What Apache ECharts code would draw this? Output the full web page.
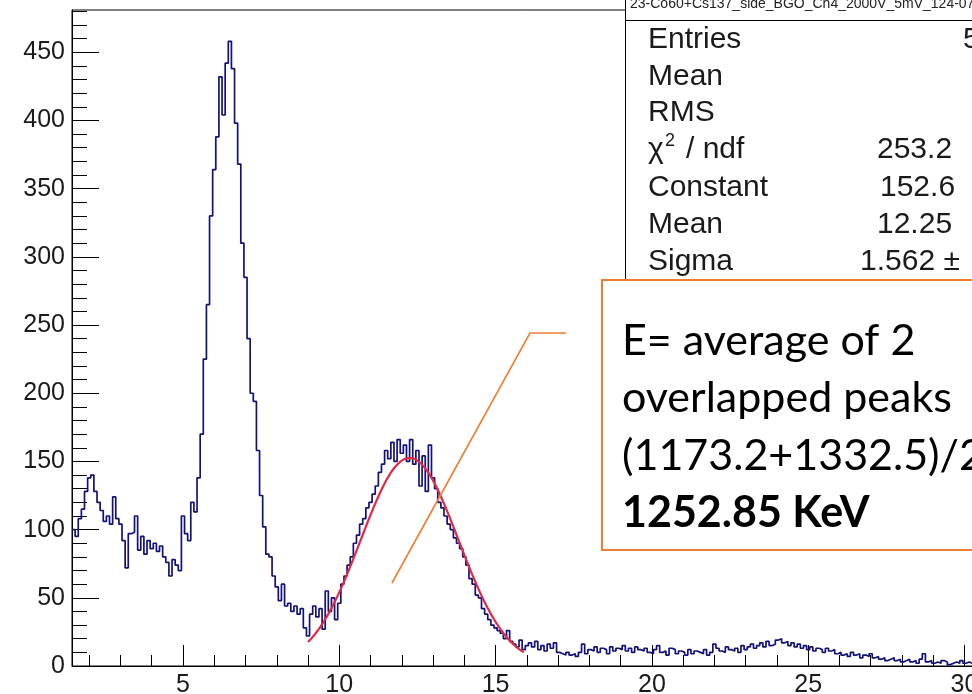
<!DOCTYPE html>
<html>
<head>
<meta charset="utf-8">
<script src="https://cdn.jsdelivr.net/npm/echarts@6/dist/echarts.min.js"></script>
<style>
  html, body { margin: 0; padding: 0; background: #fff; }
  #chart { width: 972px; height: 694px; }
</style>
</head>
<body>
<div id="chart"></div>
<script>
// Histogram binning (channel units)
const binStart = 1.45;
const binWidth = 0.1;

// Bin contents, in order, split by region of the spectrum
const countsLowEnergy = [
  100, 95, 108, 115, 128, 138, 140, 128, 120, 114,
  106, 110, 104, 124, 108, 104, 92, 72, 97, 98,
  110, 85, 95, 82, 92, 86, 90, 84, 88, 80,
  76, 66, 78, 74, 70, 110
];
const countsFirstPeak = [
  97, 92, 120, 113, 138, 170, 225, 265, 330, 364,
  388, 432, 404, 442, 458, 438, 398, 368, 310, 285,
  240, 200, 194, 158, 125, 102, 82, 80, 66, 58,
  48, 60, 44, 46, 40, 44, 38, 42, 28, 22
];
const countsSecondPeak = [
  38, 44, 36, 42, 27, 55, 40, 50, 34, 46,
  60, 66, 74, 80, 90, 96, 104, 108, 116, 120,
  126, 132, 142, 148, 158, 152, 164, 150, 166, 156,
  162, 150, 166, 148, 158, 132, 154, 128, 162, 138,
  130, 120, 116, 110, 104, 100, 94, 90, 86, 80,
  74, 64, 60, 52, 50, 42, 38, 34, 30, 28,
  26, 24, 20, 26, 18, 16, 14, 19, 12, 15
];
const countsTail = [
  17, 14, 18, 12, 15, 11, 16, 13, 17, 10,
  9, 8, 10, 8, 9, 7, 10, 16, 9, 12,
  11, 14, 10, 13, 12, 9, 14, 11, 13, 12,
  15, 11, 13, 10, 14, 12, 11, 13, 10, 9,
  12, 15, 10, 11, 8, 13, 12, 9, 11, 10,
  8, 12, 9, 11, 10, 9, 12, 8, 10, 16,
  13, 11, 10, 14, 12, 11, 13, 10, 15, 12,
  14, 16, 13, 15, 17, 14, 18, 15, 16, 19,
  20, 17, 18, 15, 17, 14, 16, 13, 15, 12,
  14, 11, 13, 12, 10, 13, 11, 12, 9, 10,
  8, 9, 7, 10, 8, 9, 6, 8, 7, 9,
  6, 7, 5, 6, 4, 5, 6, 4, 5, 3,
  4, 5, 3, 4, 2, 5, 9, 3, 4, 2,
  3, 2, 4, 3, 1, 2, 3, 2, 4, 2, 3, 2
];

// Gaussian fit results (stat box)
const fitConstant = 152.6;
const fitMean = 12.25;
const fitSigma = 1.562;
const fitRange = [9.0, 15.9];

// Axis ranges and ticks
const xMin = 1.45, xMax = 32;
const yMin = 0, yMax = 481;
const xMajorTicks = [5, 10, 15, 20, 25, 30];
const xMinorTicks = [2, 3, 4, 6, 7, 8, 9, 11, 12, 13, 14, 16, 17, 18, 19, 21, 22, 23, 24, 26, 27, 28, 29, 31];
const yMajorTicks = [0, 50, 100, 150, 200, 250, 300, 350, 400, 450];
const yMinorTicks = [];
for (let v = 10; v < yMax; v += 10) if (v % 50 !== 0) yMinorTicks.push(v);

// Stat box text
const statTitle = '23-Co60+Cs137_side_BGO_Ch4_2000V_5mV_124-07_0.7Gsa_sy';
const statLabels = ['Entries', 'Mean', 'RMS', '', 'Constant', 'Mean', 'Sigma'];
const statValues = ['5', '', '', '253.2', '152.6', '12.25', '1.562 \u00b1'];

// Annotation text
const noteLines = ['E= average of 2', 'overlapped peaks', '(1173.2+1332.5)/2', '1252.85 KeV'];

// Build step outline of the histogram
const counts = [].concat(countsLowEnergy, countsFirstPeak, countsSecondPeak, countsTail);
const histPoints = [];
counts.forEach((c, i) => {
  const lo = binStart + i * binWidth;
  histPoints.push([lo, c], [lo + binWidth, c]);
});

// Fit curve sampled over its range
const fitPoints = [];
for (let x = fitRange[0]; x <= fitRange[1] + 1e-9; x += 0.05) {
  const z = (x - fitMean) / fitSigma;
  fitPoints.push([x, fitConstant * Math.exp(-0.5 * z * z)]);
}

const chart = echarts.init(document.getElementById('chart'), null, { renderer: 'canvas' });

const axisFont = { fontFamily: 'Liberation Sans', fontSize: 25, color: '#1a1a1a' };
const tickStyle = { color: '#000', width: 1 };

const statGraphics = [];
const rowY = [40, 77, 113, 150, 188, 225, 262];
const valueX = [963, 0, 0, 877, 880, 877, 860];
const statFont = '30px "Liberation Sans"';
statLabels.forEach((t, i) => {
  if (t) statGraphics.push({ type: 'text', z: 102,
    style: { x: 648, y: rowY[i], text: t, font: statFont, fill: '#1a1a1a', verticalAlign: 'middle' } });
  if (statValues[i]) statGraphics.push({ type: 'text', z: 102,
    style: { x: valueX[i], y: rowY[i], text: statValues[i], font: statFont, fill: '#1a1a1a', verticalAlign: 'middle' } });
});
statGraphics.push(
  { type: 'text', z: 102, style: { x: 648, y: rowY[3], text: '\u03c7', font: statFont, fill: '#1a1a1a', verticalAlign: 'middle' } },
  { type: 'text', z: 102, style: { x: 665, y: rowY[3] - 9, text: '2', font: '18px "Liberation Sans"', fill: '#1a1a1a', verticalAlign: 'middle' } },
  { type: 'text', z: 102, style: { x: 686, y: rowY[3], text: '/ ndf', font: statFont, fill: '#1a1a1a', verticalAlign: 'middle' } }
);

const noteGraphics = noteLines.map((t, i) => ({
  type: 'text', z: 112,
  style: { x: 622, y: 341 + i * 57.5, text: t, font: (i === 3 ? 'bold ' : '') + '43px Lato',
    fill: '#000', verticalAlign: 'middle' }
}));

chart.setOption({
  animation: false,
  backgroundColor: '#fff',
  grid: { left: 72, top: 10, width: 955, height: 656, outerBoundsMode: 'none', containLabel: false,
    show: true, borderColor: '#000', borderWidth: 1 },
  xAxis: [
    {
      type: 'value', min: xMin, max: xMax, position: 'bottom', offset: 0,
      axisLine: { onZero: false, lineStyle: tickStyle },
      splitLine: { show: false },
      axisTick: { inside: true, length: 21, customValues: xMajorTicks, lineStyle: tickStyle },
      axisLabel: Object.assign({ customValues: xMajorTicks, margin: 7 }, axisFont)
    },
    {
      type: 'value', min: xMin, max: xMax, position: 'bottom', offset: 0,
      axisLine: { show: false },
      splitLine: { show: false },
      axisTick: { inside: true, length: 11, customValues: xMinorTicks, lineStyle: tickStyle },
      axisLabel: { show: false }
    }
  ],
  yAxis: [
    {
      type: 'value', min: yMin, max: yMax, position: 'left', offset: 0,
      axisLine: { show: true, onZero: false, lineStyle: tickStyle },
      splitLine: { show: false },
      axisTick: { inside: true, length: 27, customValues: yMajorTicks, lineStyle: tickStyle },
      axisLabel: Object.assign({ customValues: yMajorTicks, margin: 7 }, axisFont)
    },
    {
      type: 'value', min: yMin, max: yMax, position: 'left', offset: 0,
      axisLine: { show: false },
      splitLine: { show: false },
      axisTick: { inside: true, length: 15, customValues: yMinorTicks, lineStyle: tickStyle },
      axisLabel: { show: false }
    }
  ],
  series: [
    {
      type: 'line', name: 'histogram', xAxisIndex: 0, yAxisIndex: 0,
      data: histPoints, showSymbol: false, clip: true,
      lineStyle: { color: '#12127a', width: 1.7 }, z: 3
    },
    {
      type: 'line', name: 'gaus', xAxisIndex: 0, yAxisIndex: 0,
      data: fitPoints, showSymbol: false, smooth: false, clip: true,
      lineStyle: { color: '#e02a45', width: 2.2 }, z: 4
    }
  ],
  graphic: [
    // stat box
    { type: 'rect', z: 100, shape: { x: 625.5, y: -5, width: 400, height: 300 },
      style: { fill: '#fff', stroke: '#000', lineWidth: 1 } },
    { type: 'line', z: 101, shape: { x1: 625, y1: 20.5, x2: 972, y2: 20.5 },
      style: { stroke: '#000', lineWidth: 1 } },
    { type: 'text', z: 101,
      style: { x: 630, y: 11, text: statTitle, font: '14px "Liberation Sans"', fill: '#222', verticalAlign: 'bottom' } },
    ...statGraphics,
    // annotation box
    { type: 'rect', z: 110, shape: { x: 602, y: 280, width: 400, height: 270 },
      style: { fill: '#fff', stroke: '#ED7D31', lineWidth: 2 } },
    ...noteGraphics,
    { type: 'polyline', z: 111, shape: { points: [[392, 583], [530, 333], [566, 333]] },
      style: { stroke: '#ED7D31', lineWidth: 1.6, fill: null } }
  ]
});
</script>
</body>
</html>
